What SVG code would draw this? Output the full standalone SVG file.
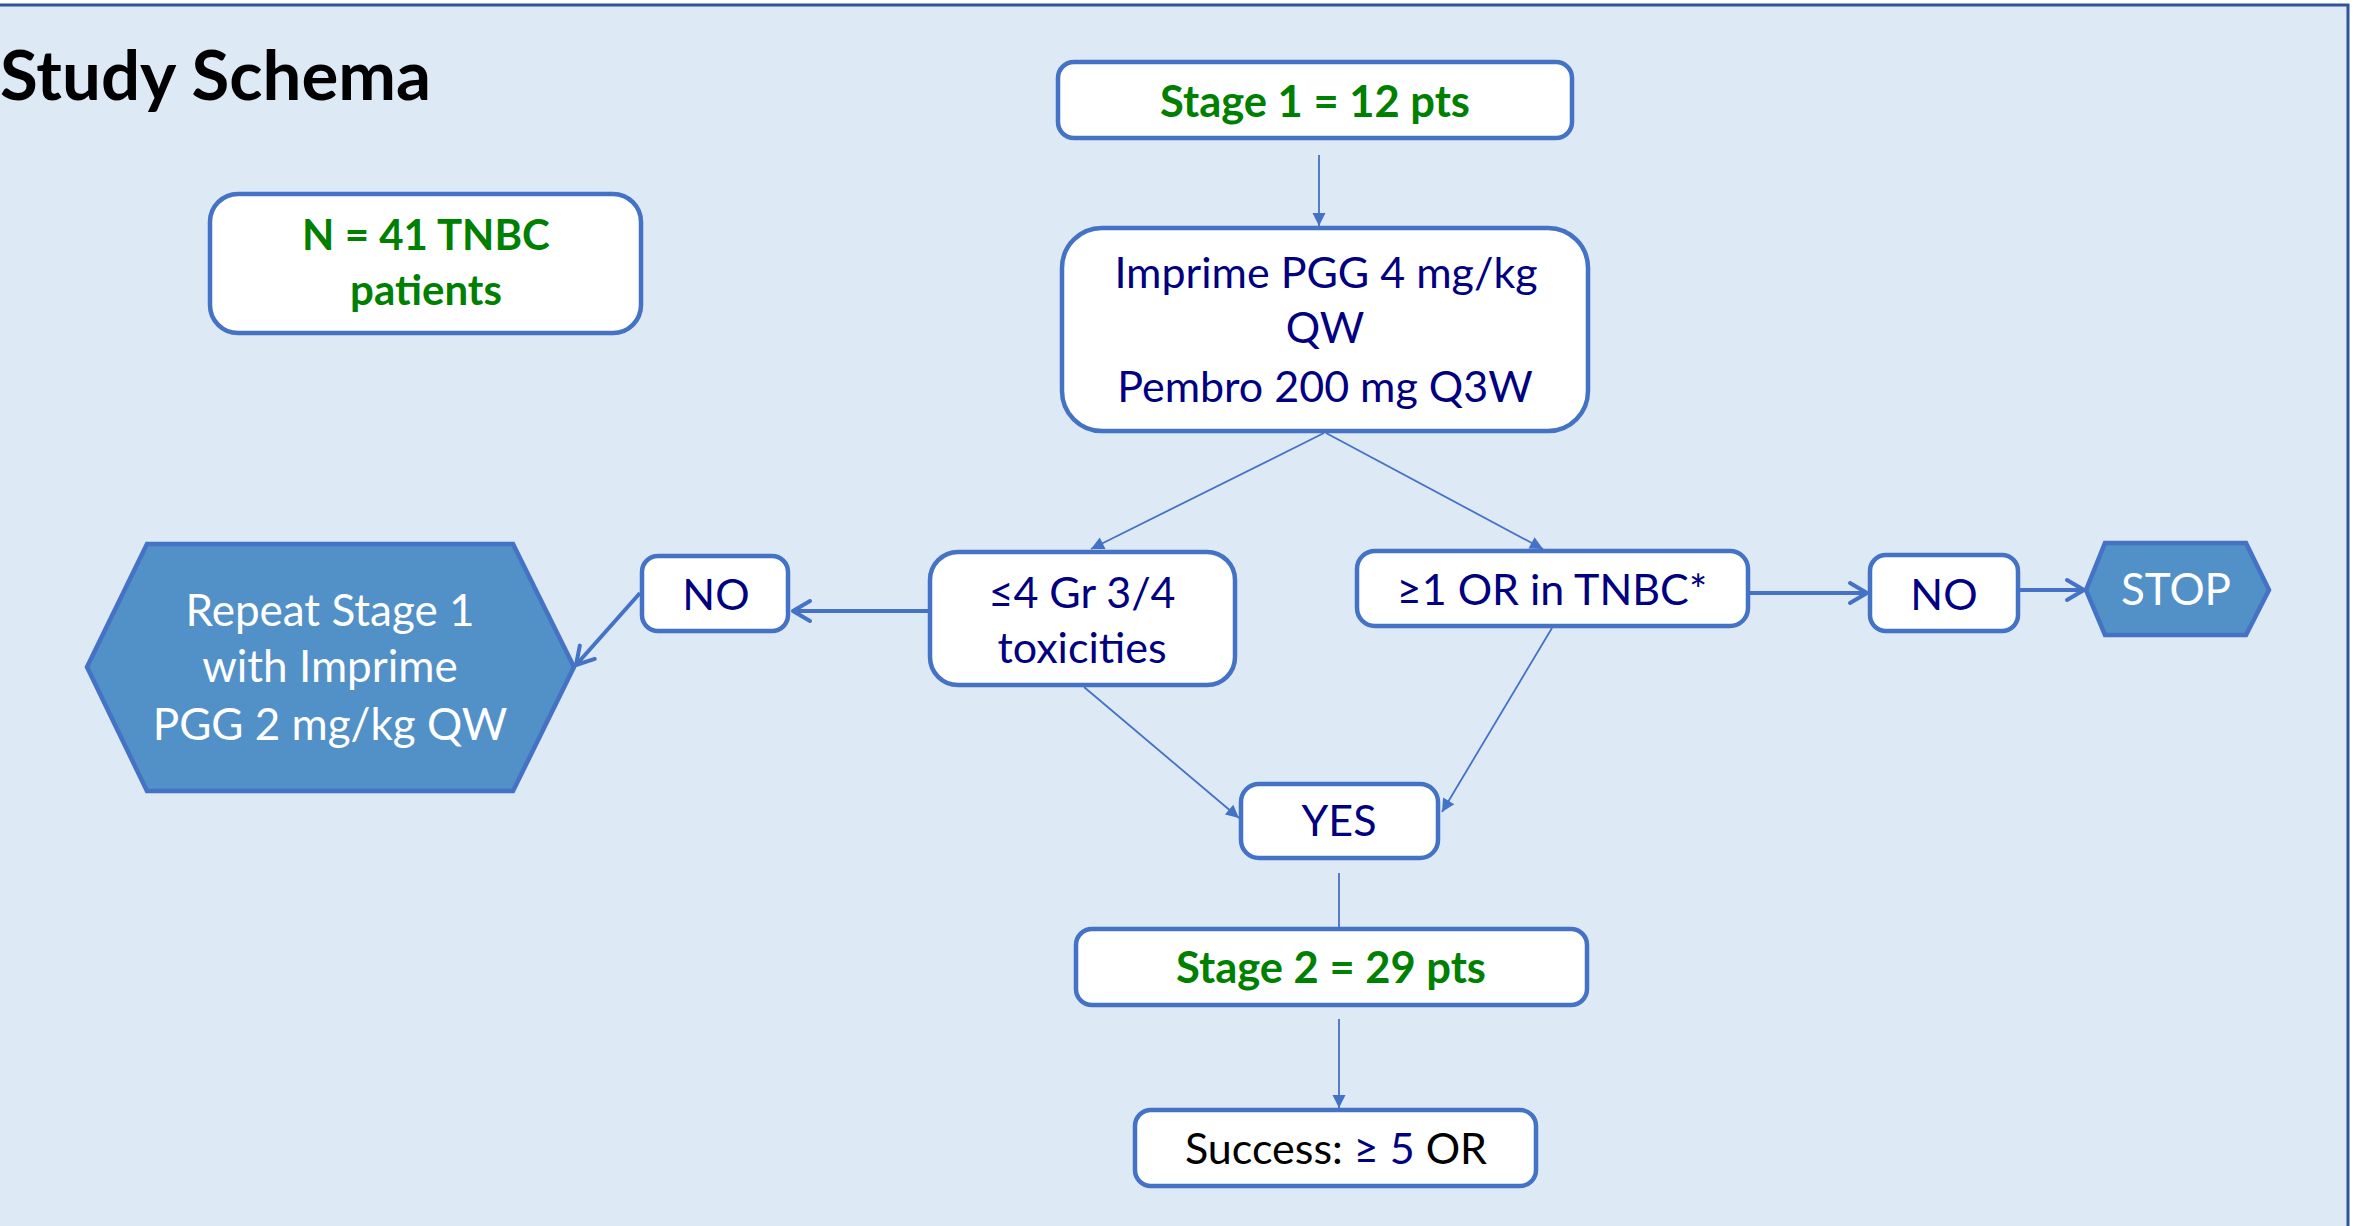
<svg xmlns="http://www.w3.org/2000/svg" width="2358" height="1226" viewBox="0 0 2358 1226">
  <defs>
    <marker id="tri" markerUnits="userSpaceOnUse" viewBox="-14 -8 16 16" refX="0" refY="0" markerWidth="16" markerHeight="16" orient="auto">
      <path d="M -13 -6.5 L 0 0 L -13 6.5 Z" fill="#4472C4"/>
    </marker>
    <marker id="open" markerUnits="userSpaceOnUse" viewBox="-22 -14 26 28" refX="0" refY="0" markerWidth="26" markerHeight="28" orient="auto">
      <path d="M -17 -10 L 0 0 L -17 10" fill="none" stroke="#4472C4" stroke-width="4" stroke-linecap="round" stroke-linejoin="round"/>
    </marker>
  </defs>
  <style>
    .box { fill: #FFFFFF; stroke: #4472C4; stroke-width: 4.5; }
    .hex { fill: #5290C8; stroke: #4472C4; stroke-width: 4.5; stroke-linejoin: miter; }
    .thin { stroke: #4472C4; stroke-width: 1.8; fill: none; }
    .thick { stroke: #4472C4; stroke-width: 4; fill: none; }
    .g { font-family: Lato, "Liberation Sans", sans-serif; font-weight: bold; fill: #008000; text-anchor: middle; }
    .n { font-family: Lato, "Liberation Sans", sans-serif; fill: #000080; text-anchor: middle; font-size: 43px; }
    .w { font-family: Lato, "Liberation Sans", sans-serif; fill: #FFFFFF; text-anchor: middle; font-size: 44px; }
  </style>

  <rect x="-10" y="5" width="2358" height="1240" fill="#DDE9F5" stroke="#2F5597" stroke-width="3"/>

  <text id="title" x="0" y="100" font-family="Lato, 'Liberation Sans', sans-serif" font-weight="bold" font-size="69" fill="#000000">Study Schema</text>

  <g id="connectors">
    <line class="thin" x1="1319" y1="155" x2="1319" y2="226" marker-end="url(#tri)"/>
    <line class="thin" x1="1324" y1="433" x2="1091" y2="549" marker-end="url(#tri)"/>
    <line class="thin" x1="1326" y1="433" x2="1543" y2="549" marker-end="url(#tri)"/>
    <line class="thin" x1="1084" y1="687" x2="1239" y2="818" marker-end="url(#tri)"/>
    <line class="thin" x1="1552" y1="628" x2="1442" y2="812" marker-end="url(#tri)"/>
    <line class="thin" x1="1339" y1="873" x2="1339" y2="929"/>
    <line class="thin" x1="1339" y1="1019" x2="1339" y2="1108" marker-end="url(#tri)"/>
    <line class="thick" x1="928" y1="611" x2="793" y2="611" marker-end="url(#open)"/>
    <line class="thick" x1="640" y1="593" x2="576" y2="665" marker-end="url(#open)"/>
    <line class="thick" x1="1750" y1="593" x2="1867" y2="593" marker-end="url(#open)"/>
    <line class="thick" x1="2020" y1="590" x2="2084" y2="590" marker-end="url(#open)"/>
  </g>

  <g id="n41">
    <rect class="box" x="210" y="194" width="431" height="139" rx="28"/>
    <text class="g" x="426" y="250" font-size="42">N = 41 TNBC</text>
    <text class="g" x="426" y="305" font-size="42">patients</text>
  </g>

  <g id="stage1">
    <rect class="box" x="1058" y="62" width="514" height="76" rx="16"/>
    <text class="g" x="1315" y="117" font-size="43.5">Stage 1 = 12 pts</text>
  </g>

  <g id="imprime">
    <rect class="box" x="1062" y="228" width="526" height="203" rx="40"/>
    <text class="n" x="1326" y="288" font-size="44">Imprime PGG 4 mg/kg</text>
    <text class="n" x="1325" y="343" font-size="44">QW</text>
    <text class="n" x="1325" y="402" font-size="44">Pembro 200 mg Q3W</text>
  </g>

  <g id="tox">
    <rect class="box" x="930" y="552" width="305" height="133" rx="28"/>
    <text class="n" x="1082" y="608">≤4 Gr 3/4</text>
    <text class="n" x="1082" y="663" font-size="44">toxicities</text>
  </g>

  <g id="or">
    <rect class="box" x="1357" y="551" width="391" height="75" rx="18"/>
    <text class="n" x="1552" y="605">≥1 OR in TNBC*</text>
  </g>

  <g id="no-left">
    <rect class="box" x="642" y="556" width="146" height="75" rx="16"/>
    <text class="n" x="716" y="610">NO</text>
  </g>

  <g id="repeat">
    <polygon class="hex" points="87,667 147,544 513,544 574,667 513,791 147,791"/>
    <text class="w" x="330" y="626">Repeat Stage 1</text>
    <text class="w" x="330" y="682">with Imprime</text>
    <text class="w" x="330" y="740">PGG 2 mg/kg QW</text>
  </g>

  <g id="no-right">
    <rect class="box" x="1870" y="555" width="148" height="76" rx="16"/>
    <text class="n" x="1944" y="610">NO</text>
  </g>

  <g id="stop">
    <polygon class="hex" points="2086,590 2105,543 2246,543 2269,590 2246,635 2105,635"/>
    <text class="w" x="2176" y="605" font-size="42">STOP</text>
  </g>

  <g id="yes">
    <rect class="box" x="1241" y="784" width="197" height="74" rx="18"/>
    <text class="n" x="1339" y="836">YES</text>
  </g>

  <g id="stage2">
    <rect class="box" x="1076" y="929" width="511" height="76" rx="16"/>
    <text class="g" x="1331" y="983" font-size="43.5">Stage 2 = 29 pts</text>
  </g>

  <g id="success">
    <rect class="box" x="1135" y="1110" width="401" height="76" rx="16"/>
    <text class="n" x="1336" y="1164" style="fill:#000000">Success: <tspan style="fill:#000080">≥ 5</tspan> OR</text>
  </g>
</svg>
